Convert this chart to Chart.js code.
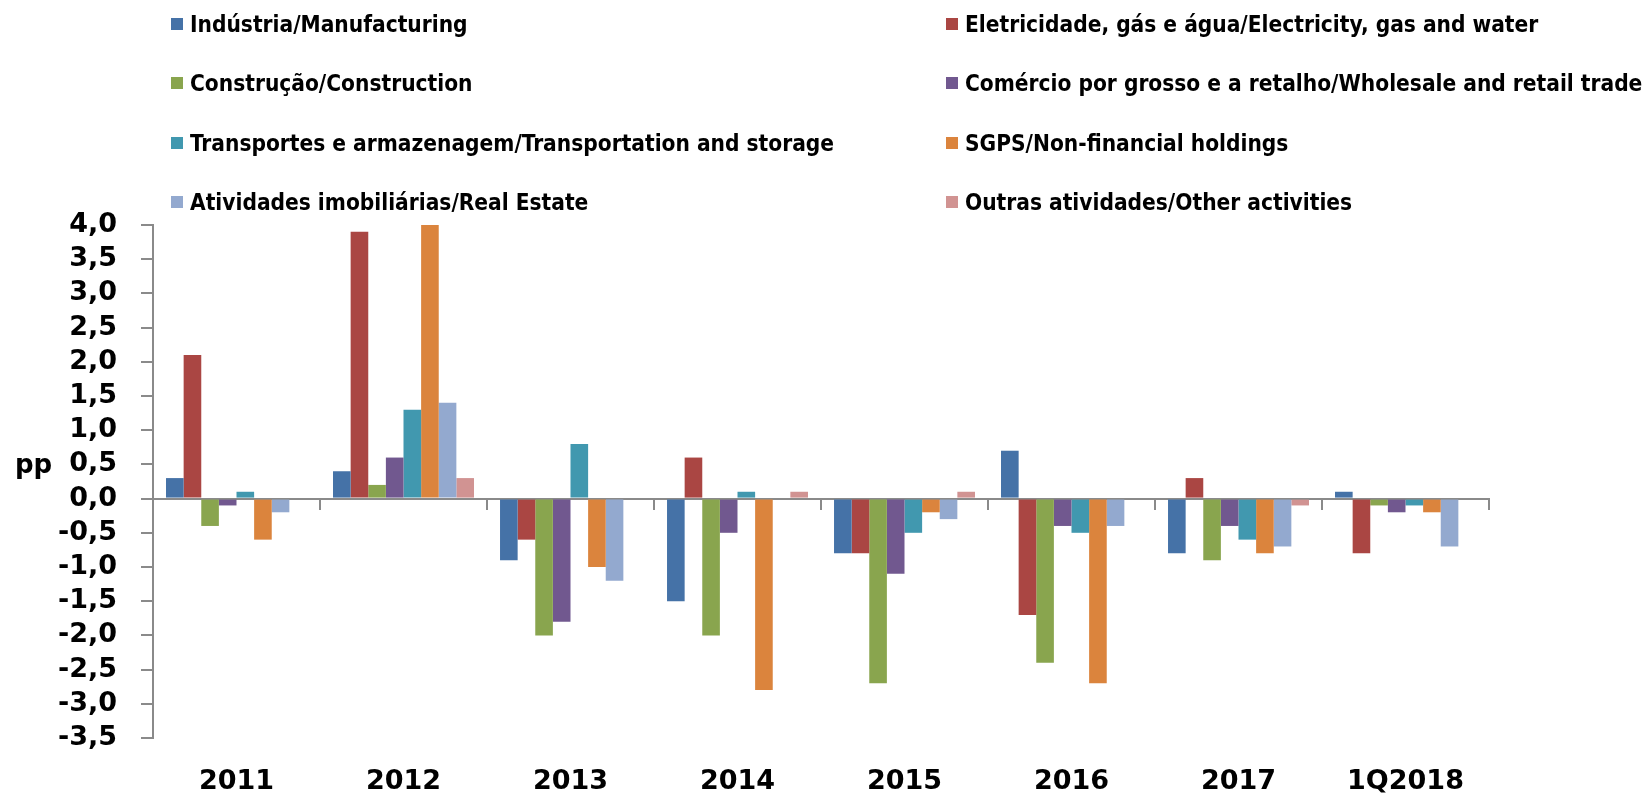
<!DOCTYPE html>
<html>
<head>
<meta charset="utf-8">
<script src="https://cdn.jsdelivr.net/npm/chart.js@4"></script>
<style>
html, body { margin: 0; padding: 0; background: #fff; }
#wrap { position: relative; width: 1642px; height: 794px; }
#legend { position: absolute; left: 0; top: 0; width: 1642px; height: 220px; }
#legend .item { position: absolute; display: flex; align-items: center; height: 26px;
  font-family: "Liberation Sans Narrow", "DejaVu Sans Condensed", sans-serif; font-weight: bold;
  font-size: 22.5px; color: #000; white-space: nowrap; }
#legend .box { width: 12px; height: 12px; margin-right: 7px; }
#pp { position: absolute; left: 15px; top: 451px; font: bold 26px "DejaVu Sans"; line-height: 26px; color: #000; }
</style>
</head>
<body>
<div id="wrap">
  <canvas id="chart" width="1642" height="794"></canvas>
  <div id="legend"></div>
  <div id="pp">pp</div>
</div>
<script>
const categories = ['2011', '2012', '2013', '2014', '2015', '2016', '2017', '1Q2018'];
const yTicks = [-3.5, -3, -2.5, -2, -1.5, -1, -0.5, 0, 0.5, 1, 1.5, 2, 2.5, 3, 3.5, 4];

const seriesNames = [
    'Indústria/Manufacturing',
    'Eletricidade, gás e água/Electricity, gas and water',
    'Construção/Construction',
    'Comércio por grosso e a retalho/Wholesale and retail trade',
    'Transportes e armazenagem/Transportation and storage',
    'SGPS/Non-financial holdings',
    'Atividades imobiliárias/Real Estate',
    'Outras atividades/Other activities'
];
const colors = ['#4572A7', '#AA4643', '#89A54E', '#71588F', '#4198AF', '#DB843D', '#93A9CF', '#D19392'];

const manufacturing = [0.3, 0.4, -0.9, -1.5, -0.8, 0.7, -0.8, 0.1];
const electricity   = [2.1, 3.9, -0.6, 0.6, -0.8, -1.7, 0.3, -0.8];
const construction  = [-0.4, 0.2, -2.0, -2.0, -2.7, -2.4, -0.9, -0.1];
const trade         = [-0.1, 0.6, -1.8, -0.5, -1.1, -0.4, -0.4, -0.2];
const transport     = [0.1, 1.3, 0.8, 0.1, -0.5, -0.5, -0.6, -0.1];
const holdings      = [-0.6, 4.0, -1.0, -2.8, -0.2, -2.7, -0.8, -0.2];
const realEstate    = [-0.2, 1.4, -1.2, 0, -0.3, -0.4, -0.7, -0.7];
const other         = [0, 0.3, 0, 0.1, 0.1, 0, -0.1, 0];

const seriesValues = [manufacturing, electricity, construction, trade, transport, holdings, realEstate, other];

const axisGray = '#8a8a8a';
const tickFont = { family: 'DejaVu Sans', size: 27, weight: 'bold' };

// legend in two columns, drawn as html
const htmlLegend = {
    id: 'htmlLegend',
    afterUpdate(chart) {
        const box = document.getElementById('legend');
        box.innerHTML = '';
        chart.data.datasets.forEach((ds, i) => {
            const item = document.createElement('div');
            item.className = 'item';
            item.style.left = (i % 2 === 0 ? 171 : 946) + 'px';
            item.style.top = (24 + Math.floor(i / 2) * 59.3 - 13) + 'px';
            const sw = document.createElement('span');
            sw.className = 'box';
            sw.style.background = ds.backgroundColor;
            const txt = document.createElement('span');
            txt.textContent = ds.label;
            item.appendChild(sw);
            item.appendChild(txt);
            box.appendChild(item);
        });
    }
};

new Chart(document.getElementById('chart'), {
    type: 'bar',
    data: {
        labels: categories,
        datasets: seriesNames.map((name, i) => ({
            label: name,
            data: seriesValues[i],
            backgroundColor: colors[i],
            borderWidth: 0,
            categoryPercentage: 0.844,
            barPercentage: 1.0
        }))
    },
    options: {
        responsive: false,
        animation: false,
        layout: { padding: { top: 225, right: 153, left: 0, bottom: 0 } },
        plugins: {
            legend: { display: false },
            tooltip: { enabled: false }
        },
        scales: {
            x: {
                grid: { display: false },
                border: { display: false },
                ticks: { font: tickFont, color: '#000', padding: 20, maxRotation: 0 },
                afterFit(s) { s.height = 56; }
            },
            xZero: {
                type: 'category',
                labels: categories,
                position: { y: 0 },
                offset: true,
                grid: { offset: true, drawOnChartArea: false, drawTicks: true, tickLength: 10, color: axisGray, lineWidth: 2 },
                border: { display: true, color: axisGray, width: 2 },
                ticks: { display: false }
            },
            y: {
                min: -3.5,
                max: 4,
                afterBuildTicks(s) { s.ticks = yTicks.map(v => ({ value: v })); },
                ticks: {
                    font: tickFont,
                    color: '#000',
                    padding: 24,
                    autoSkip: false,
                    callback: v => v.toFixed(1).replace('.', ',')
                },
                grid: { drawOnChartArea: false, tickLength: 12, color: axisGray, lineWidth: 2 },
                border: { color: axisGray, width: 2 },
                afterFit(s) { s.width = 153; }
            }
        }
    },
    plugins: [htmlLegend]
});
</script>
</body>
</html>
